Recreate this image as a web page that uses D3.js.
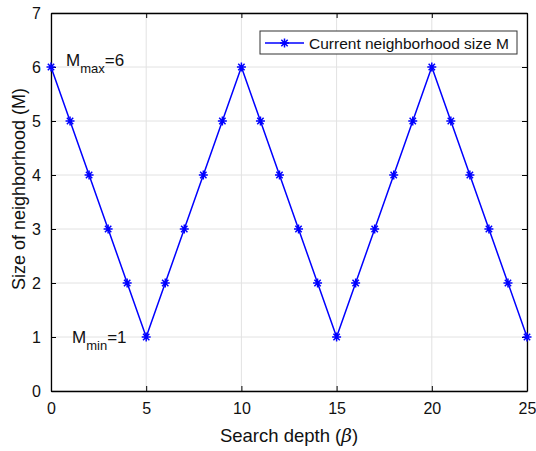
<!DOCTYPE html>
<html>
<head>
<meta charset="utf-8">
<script src="https://cdn.jsdelivr.net/npm/d3@7"></script>
<style>
  body { margin: 0; background: #fff; }
  text { font-family: "Liberation Sans", Arial, sans-serif; }
</style>
</head>
<body>
<div id="chart"></div>
<script>
// search depth (beta) and neighborhood size M
var depth = d3.range(0, 26)
var sizeM = [6,5,4,3,2,1,2,3,4,5,6,5,4,3,2,1,2,3,4,5,6,5,4,3,2,1]
var xTicks = [0,5,10,15,20,25]
var yTicks = [0,1,2,3,4,5,6,7]
var legendLabel = "Current neighborhood size M"

var width = 536, height = 451
var plotLeft = 51, plotRight = 527, plotTop = 13, plotBottom = 391

var svg = d3.select("#chart").append("svg").attr("width", width).attr("height", height)

var xScale = d3.scaleLinear().domain([0, 25]).range([plotLeft, plotRight])
var yScale = d3.scaleLinear().domain([0, 7]).range([plotBottom, plotTop])

// grid lines
svg.selectAll(".gx").data(xTicks).enter().append("line")
  .attr("x1", function(d){ return xScale(d) }).attr("x2", function(d){ return xScale(d) })
  .attr("y1", plotTop).attr("y2", plotBottom)
  .attr("stroke", "#e2e2e2").attr("stroke-width", 1)
svg.selectAll(".gy").data(yTicks).enter().append("line")
  .attr("y1", function(d){ return yScale(d) }).attr("y2", function(d){ return yScale(d) })
  .attr("x1", plotLeft).attr("x2", plotRight)
  .attr("stroke", "#e2e2e2").attr("stroke-width", 1)

// axes (ticks inside, like matlab)
var xAxis = d3.axisBottom(xScale).tickValues(xTicks).tickFormat(d3.format("d"))
  .tickSizeInner(-5).tickSizeOuter(0).tickPadding(12)
var yAxis = d3.axisLeft(yScale).tickValues(yTicks).tickFormat(d3.format("d"))
  .tickSizeInner(-5).tickSizeOuter(0).tickPadding(10)

var gx = svg.append("g").attr("transform", "translate(0," + plotBottom + ")").call(xAxis)
var gy = svg.append("g").attr("transform", "translate(" + plotLeft + ",0)").call(yAxis)
// top and right box with ticks
var gx2 = svg.append("g").attr("transform", "translate(0," + plotTop + ")")
  .call(d3.axisTop(xScale).tickValues(xTicks).tickSizeInner(-5).tickSizeOuter(0).tickFormat(""))
var gy2 = svg.append("g").attr("transform", "translate(" + plotRight + ",0)")
  .call(d3.axisRight(yScale).tickValues(yTicks).tickSizeInner(-5).tickSizeOuter(0).tickFormat(""))

;[gx, gy, gx2, gy2].forEach(function(g){
  g.select(".domain").attr("stroke", "#000").attr("stroke-width", 1.3)
  g.selectAll(".tick line").attr("stroke", "#000")
  g.selectAll(".tick text").attr("font-size", "16px").attr("fill", "#111")
    .attr("font-family", "Liberation Sans, Arial, sans-serif")
})

// the series line
var line = d3.line().x(function(d,i){ return xScale(depth[i]) }).y(function(d){ return yScale(d) })
svg.append("path").datum(sizeM).attr("d", line)
  .attr("fill", "none").attr("stroke", "#0000ff").attr("stroke-width", 1.5)

function star(g, x, y, r) {
  var p = ""
  for (var k = 0; k < 4; k++) {
    var a = k * Math.PI / 4
    p += "M" + (x - r*Math.cos(a)) + "," + (y - r*Math.sin(a)) + "L" + (x + r*Math.cos(a)) + "," + (y + r*Math.sin(a))
  }
  g.append("path").attr("d", p).attr("stroke", "#0000ff").attr("stroke-width", 1.5).attr("fill", "none")
}
var marks = svg.append("g")
sizeM.forEach(function(d, i){ star(marks, xScale(depth[i]), yScale(d), 4.5) })

// annotations
var ann1 = svg.append("text").attr("x", 66).attr("y", 66).attr("font-size", "17px").attr("fill", "#111")
ann1.append("tspan").text("M")
ann1.append("tspan").attr("font-size", "13px").attr("dy", 7).text("max")
ann1.append("tspan").attr("dy", -7).text("=6")

var ann2 = svg.append("text").attr("x", 72).attr("y", 343).attr("font-size", "17px").attr("fill", "#111")
ann2.append("tspan").text("M")
ann2.append("tspan").attr("font-size", "13px").attr("dy", 7).text("min")
ann2.append("tspan").attr("dy", -7).text("=1")

// axis labels
var xl = svg.append("text").attr("x", 289).attr("y", 442)
  .attr("text-anchor", "middle").attr("font-size", "18.5px").attr("fill", "#111")
xl.append("tspan").text("Search depth (")
xl.append("tspan").attr("font-style", "italic").attr("font-family", "DejaVu Serif, serif").text("β")
xl.append("tspan").text(")")

svg.append("text").attr("transform", "translate(25,189) rotate(-90)")
  .attr("text-anchor", "middle").attr("font-size", "18px").attr("fill", "#111")
  .text("Size of neighborhood (M)")

// legend
var lg = svg.append("g")
lg.append("rect").attr("x", 260).attr("y", 31).attr("width", 257).attr("height", 23)
  .attr("fill", "#fff").attr("stroke", "#333").attr("stroke-width", 1)
lg.append("line").attr("x1", 265).attr("x2", 304).attr("y1", 43).attr("y2", 43)
  .attr("stroke", "#0000ff").attr("stroke-width", 1.5)
star(lg, 284.5, 43, 4.5)
lg.append("text").attr("x", 309).attr("y", 48.5).attr("font-size", "15.5px").attr("fill", "#111").text(legendLabel)
</script>
</body>
</html>
